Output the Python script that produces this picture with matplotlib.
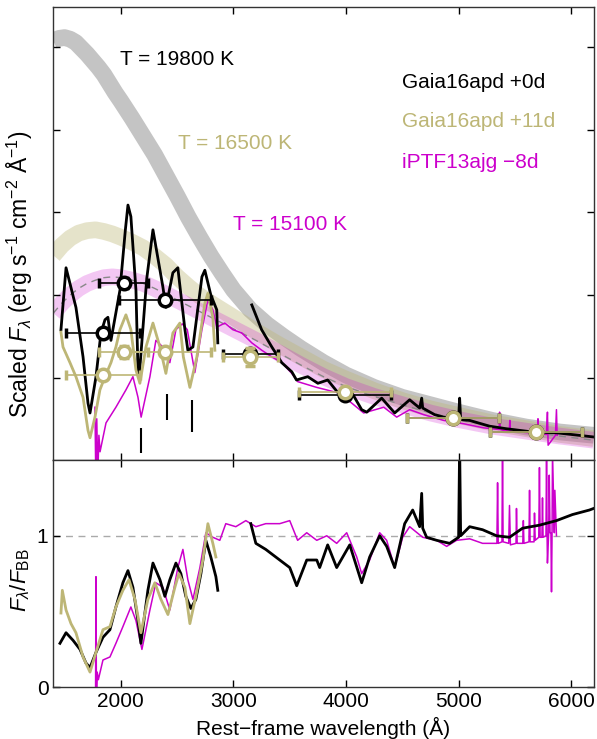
import matplotlib

matplotlib.use("Agg")

import matplotlib.pyplot as plt

plt.rcParams["font.family"] = ["Liberation Sans", "DejaVu Sans"]
plt.rcParams["mathtext.fontset"] = "custom"
plt.rcParams["mathtext.rm"] = "Liberation Sans"
plt.rcParams["mathtext.it"] = "Liberation Sans:italic"
plt.rcParams["font.size"] = 15

BLACK = "#000000"
OLIVE = "#bdb676"
MAGENTA = "#cc00cc"

# blackbody curves, scaled
bb_wave = [1400, 1450, 1500, 1550, 1600, 1650, 1700, 1750, 1800, 1850, 1900,
           1950, 2000, 2100, 2200, 2300, 2400, 2500, 2600, 2700, 2800, 2900,
           3000, 3150, 3300, 3450, 3600, 3800, 4000, 4250, 4500, 4750, 5000,
           5300, 5600, 5900, 6200]
bb_19800 = [5.08, 5.11, 5.12, 5.10, 5.06, 4.99, 4.92, 4.84, 4.76, 4.67, 4.56,
            4.45, 4.35, 4.14, 3.92, 3.70, 3.45, 3.20, 2.94, 2.70, 2.47, 2.26,
            2.06, 1.82, 1.64, 1.49, 1.35, 1.18, 1.03, 0.88, 0.76, 0.67, 0.58,
            0.48, 0.40, 0.34, 0.30]

bb2_wave = [1400, 1475, 1550, 1625, 1700, 1775, 1850, 1925, 2000, 2100, 2200,
            2300, 2400, 2500, 2600, 2700, 2800, 3000, 3200, 3400, 3600, 3800,
            4000, 4250, 4500, 4750, 5000, 5300, 5600, 5900, 6200]
bb_16500 = [2.48, 2.60, 2.69, 2.75, 2.78, 2.79, 2.77, 2.74, 2.70, 2.64, 2.57,
            2.47, 2.36, 2.22, 2.10, 1.99, 1.90, 1.73, 1.56, 1.40, 1.25, 1.10,
            0.98, 0.84, 0.72, 0.62, 0.54, 0.45, 0.38, 0.31, 0.26]

bb3_wave = [1400, 1475, 1550, 1625, 1700, 1775, 1850, 1925, 2000, 2100, 2200,
            2300, 2400, 2500, 2600, 2700, 2800, 3000, 3200, 3400, 3600, 3800,
            4000, 4250, 4500, 4750, 5000, 5300, 5600, 5900, 6200]
bb_15100 = [1.78, 1.90, 2.00, 2.08, 2.14, 2.18, 2.21, 2.22, 2.21, 2.18, 2.14,
            2.08, 2.01, 1.94, 1.87, 1.80, 1.73, 1.59, 1.45, 1.30, 1.15, 1.01,
            0.89, 0.77, 0.67, 0.57, 0.49, 0.41, 0.35, 0.29, 0.24]

# Gaia16apd +0d spectrum (scaled flux)
blk_wave = [1468, 1513, 1601, 1664, 1708, 1726, 1779, 1823, 1859, 1885, 1912,
            1992, 2040, 2063, 2089, 2134, 2152, 2165, 2230, 2285, 2373, 2400,
            2462, 2506, 2569, 2595, 2640, 2720, 2746, 2799, 2852, 2861,
            2862,
            3163, 3250, 3341, 3429, 3518, 3560, 3660, 3750, 3837, 3926, 4050,
            4139, 4184, 4317, 4432, 4565, 4654, 4672, 4681, 4787, 4867, 4947,
            5000, 5009, 5018, 5098, 5275, 5420, 5657, 5869, 6195]
blk_flux = [1.58, 2.33, 1.85, 1.25, 0.69, 0.57, 1.01, 1.54, 1.70, 1.73, 1.45,
            2.06, 2.79, 3.09, 2.95, 2.06, 1.09, 1.05, 2.20, 2.79, 2.10, 1.85,
            2.27, 2.33, 1.58, 1.33, 1.37, 2.22, 2.30, 2.00, 1.82, 1.42,
            None,
            1.88, 1.58, 1.37, 1.18, 1.07, 0.97, 1.01, 0.93, 0.97, 0.82, 0.82,
            0.61, 0.58, 0.75, 0.57, 0.73, 0.63, 0.75, 0.63, 0.55, 0.52, 0.51,
            0.50, 0.75, 0.49, 0.48, 0.41, 0.38, 0.34, 0.33, 0.28]

# Gaia16apd +11d spectrum
olv_wave = [1468, 1486, 1548, 1601, 1664, 1708, 1726, 1770, 1814, 1859, 1912,
            1956, 1992, 2045, 2089, 2134, 2169, 2223, 2285, 2347, 2400, 2462,
            2524, 2555, 2613, 2675, 2746, 2773, 2817, 2835]
olv_flux = [1.55, 1.37, 1.18, 1.01, 0.76, 0.36, 0.27, 0.52, 0.85, 1.01, 1.18,
            1.37, 1.58, 1.76, 1.58, 1.09, 0.93, 1.37, 1.66, 1.37, 1.05, 1.54,
            1.66, 1.25, 0.88, 1.25, 1.90, 2.02, 1.73, 1.33]

# iPTF13ajg -8d spectrum
mag_wave = [1770, 1778, 1786, 1795, 1805, 1815, 1868, 1956, 2045, 2107, 2152,
            2180, 2258, 2311, 2373, 2435, 2489, 2545, 2590, 2657, 2720, 2773,
            2817, 2852, 2923, 2994, 3074, 3163, 3252, 3341, 3429, 3518, 3571,
            3740, 3944, 4157, 4335, 4450, 4565, 4690, 4867, 5044, 5222, 5360,
            5364, 5370, 5399, 5450, 5455, 5460, 5630, 5700, 5705, 5710, 5780,
            5789, 5795, 5860, 5869, 5875]
mag_flux = [0.64, -0.3, 0.50, -0.2, 0.30, 0.10, 0.45, 0.64, 0.85, 1.01, 0.76,
            0.52, 1.01, 1.45, 1.37, 1.18, 1.58, 1.65, 1.58, 1.06, 1.58, 1.94,
            1.82, 1.61, 1.66, 1.58, 1.54, 1.42, 1.33, 1.25, 1.18, 1.05, 0.95,
            0.88, 0.81, 0.57, 0.64, 0.52, 0.61, 0.55, 0.48, 0.44, 0.39, 0.37,
            0.58, 0.37, 0.36, 0.35, 0.48, 0.35, 0.33, 0.32, 0.50, 0.32, 0.31,
            0.58, 0.18, 0.30, 0.61, 0.30]

# line-identification markers
mark_wave = [2180, 2410, 2630]
mark_top = [0.39, 0.80, 0.73]
mark_bot = [0.085, 0.48, 0.34]

# photometry
phot_wave = [1840, 2025, 2390, 3150, 3990, 4950, 5690]
phot_werr = [330, 220, 410, 245, 410, 410, 410]
blk_phot = [1.54, 2.15, 1.94, 1.28, 0.79, 0.51, 0.34]
blk_perr = [0.03, 0.06, 0.03, 0.03, 0.03, 0.03, 0.03]
olv_phot = [1.03, 1.31, 1.31, 1.25, 0.82, 0.51, 0.34]
olv_perr = [0.03, 0.07, 0.04, 0.11, 0.04, 0.03, 0.03]

# ratio to blackbody (lower panel)
rblk_wave = [1459, 1513, 1575, 1637, 1690, 1726, 1779, 1841, 1903, 1956, 2018,
             2063, 2107, 2152, 2178, 2240, 2285, 2347, 2391, 2435, 2489, 2533,
             2577, 2622, 2666, 2711, 2755, 2799, 2844, 2861,
             2862,
             3154, 3199, 3287, 3411, 3500, 3562, 3651, 3740, 3766, 3837, 3917,
             4033, 4139, 4210, 4299, 4361, 4432, 4521, 4592, 4654, 4672, 4681,
             4716, 4805, 4920, 5000, 5009, 5018, 5098, 5213, 5337, 5452, 5568,
             5718, 5869, 6011, 6162, 6198]
rblk = [0.29, 0.36, 0.31, 0.25, 0.16, 0.13, 0.23, 0.33, 0.38, 0.53, 0.69,
        0.77, 0.66, 0.44, 0.29, 0.64, 0.82, 0.71, 0.60, 0.71, 0.82, 0.75,
        0.60, 0.52, 0.58, 0.75, 0.97, 0.86, 0.73, 0.64,
        None,
        1.08, 0.95, 0.91, 0.84, 0.79, 0.67, 0.84, 0.84, 0.79, 0.94, 0.79,
        0.94, 0.69, 0.86, 1.00, 0.93, 0.79, 1.08, 1.17, 1.06, 1.28, 1.05,
        0.99, 0.97, 0.95, 0.99, 1.60, 1.00, 1.06, 1.04, 1.00, 0.99, 1.05,
        1.07, 1.10, 1.14, 1.17, 1.18]

rmag_wave = [1775, 1779, 1783, 1790, 1800, 1841, 1903, 1956, 2018, 2089, 2134,
             2187, 2258, 2311, 2373, 2435, 2506, 2551, 2595, 2640, 2702, 2755,
             2817, 2879, 2932, 3021, 3110, 3199, 3287, 3411, 3500, 3570, 3651,
             3740, 3829, 3917, 4006, 4095, 4139, 4210, 4299, 4361, 4432, 4503,
             4565, 4681, 4805, 4894, 4982, 5098, 5213, 5302, 5340, 5346, 5352,
             5385, 5390, 5395, 5445, 5452, 5460, 5510, 5514, 5520, 5570, 5575,
             5580, 5625, 5630, 5635, 5670, 5674, 5680, 5712, 5718, 5724, 5740,
             5745, 5750, 5776, 5781, 5786, 5789, 5800, 5805, 5812, 5820, 5825,
             5830, 5834, 5850, 5855, 5869]
rmag = [-0.1, 0.73, -0.1, 0.10, 0.05, 0.18, 0.20, 0.29, 0.40, 0.53, 0.44,
        0.25, 0.51, 0.69, 0.66, 0.51, 0.79, 0.91, 0.71, 0.58, 0.79, 1.02,
        0.99, 0.97, 1.08, 1.06, 1.10, 1.06, 1.08, 1.08, 1.10, 0.97, 1.02,
        0.97, 1.00, 0.95, 1.02, 0.86, 0.75, 0.84, 1.02, 0.97, 0.79, 0.99,
        1.06, 0.99, 0.97, 0.93, 0.97, 0.98, 0.95, 0.95, 0.95, 1.35, 0.95,
        0.96, 1.55, 0.96, 0.95, 1.20, 0.94, 0.95, 1.18, 0.95, 0.95, 1.10,
        0.95, 0.96, 1.30, 0.96, 0.96, 1.15, 0.97, 0.99, 1.45, 0.99, 0.99,
        1.25, 0.99, 1.00, 1.55, 1.00, 0.82, 1.02, 1.40, 1.02, 1.02, 0.63,
        1.02, 1.55, 1.02, 1.30, 1.00]

rolv_wave = [1468, 1480, 1513, 1557, 1601, 1664, 1726, 1779, 1841, 1903, 1956,
             2018, 2072, 2125, 2178, 2240, 2302, 2356, 2418, 2480, 2515, 2569,
             2613, 2666, 2728, 2773, 2817, 2844]
rolv = [0.49, 0.64, 0.51, 0.42, 0.36, 0.20, 0.10, 0.23, 0.38, 0.40, 0.53,
        0.64, 0.71, 0.58, 0.36, 0.58, 0.69, 0.58, 0.48, 0.66, 0.75, 0.66,
        0.42, 0.60, 0.84, 1.08, 0.95, 0.86]


def nan(values):
    return [float("nan") if v is None else v for v in values]


fig = plt.figure(figsize=(5.97, 7.39), dpi=100)
ax1 = fig.add_axes([0.0893, 0.3775, 0.9052, 0.613])
ax2 = fig.add_axes([0.0893, 0.070, 0.9052, 0.3075])

# blackbody bands
ax1.plot(bb_wave, bb_19800, color="#c4c4c4", lw=12, solid_capstyle="butt", zorder=1)
ax1.plot(bb2_wave, bb_16500, color=OLIVE, alpha=0.38, lw=12, solid_capstyle="butt", zorder=1)
ax1.plot(bb3_wave, bb_15100, color=MAGENTA, alpha=0.22, lw=12, solid_capstyle="butt", zorder=1)
ax1.plot(bb3_wave, bb_15100, color="#888888", lw=1, ls=(0, (5, 4)), zorder=1.5)

# spectra
ax1.plot(mag_wave, mag_flux, color=MAGENTA, lw=1.1, zorder=2)
ax1.plot(blk_wave, nan(blk_flux), color=BLACK, lw=2.0, zorder=2.2)
ax1.plot(olv_wave, olv_flux, color=OLIVE, lw=2.0, zorder=2.4)
ax1.vlines(mark_wave, mark_bot, mark_top, color=BLACK, lw=1.5, zorder=2.5)

# photometry
ax1.errorbar(phot_wave, blk_phot, xerr=phot_werr, yerr=blk_perr, fmt="o",
             ms=9, mfc="white", mec=BLACK, mew=2.5, ecolor=BLACK,
             elinewidth=1.2, capsize=3.5, capthick=1.5, zorder=3)
ax1.errorbar(phot_wave, olv_phot, xerr=phot_werr, yerr=olv_perr, fmt="o",
             ms=9, mfc="white", mec=OLIVE, mew=2.5, ecolor=OLIVE,
             elinewidth=1.2, capsize=3.5, capthick=1.5, zorder=3.5)

ax1.text(1990, 4.85, "T = 19800 K", color=BLACK, va="center")
ax1.text(2508, 3.84, "T = 16500 K", color=OLIVE, va="center")
ax1.text(2995, 2.85, "T = 15100 K", color=MAGENTA, va="center")
ax1.text(4500, 4.58, "Gaia16apd +0d", color=BLACK, va="center")
ax1.text(4500, 4.10, "Gaia16apd +11d", color=OLIVE, va="center")
ax1.text(4500, 3.60, "iPTF13ajg \u22128d", color=MAGENTA, va="center")

ax1.set_xlim(1400, 6200)
ax1.set_ylim(0, 5.49)
ax1.set_yticks([1, 2, 3, 4, 5])
ax1.set_yticklabels([])
ax1.set_xticks([2000, 3000, 4000, 5000, 6000])
ax1.set_xticklabels([])
ax1.set_ylabel(r"Scaled $F_\lambda$ (erg s$^{-1}$ cm$^{-2}$ Å$^{-1}$)", fontsize=16.5)

# lower panel
ax2.axhline(1, color="#aaaaaa", lw=1, ls=(0, (5, 4)), zorder=1)
ax2.plot(rmag_wave, rmag, color=MAGENTA, lw=1.1, zorder=2)
ax2.plot(rblk_wave, nan(rblk), color=BLACK, lw=2.0, zorder=2.2)
ax2.plot(rolv_wave, rolv, color=OLIVE, lw=2.0, zorder=2.4)
ax2.set_xlim(1400, 6200)
ax2.set_ylim(0, 1.5)
ax2.set_yticks([0, 1])
ax2.set_xticks([2000, 3000, 4000, 5000, 6000])
ax2.set_xlabel("Rest\u2212frame wavelength (Å)")
ax2.set_ylabel(r"$F_\lambda/F_{\rm BB}$", fontsize=16)

for ax in (ax1, ax2):
    ax.tick_params(direction="in", top=True, right=True, length=5, width=1, labelsize=15)
    for spine in ax.spines.values():
        spine.set_linewidth(1)
        spine.set_color("#333333")

ax1.yaxis.set_label_coords(-0.034, 0.41)
ax2.yaxis.set_label_coords(-0.039, 0.47)

fig.savefig("out.png", dpi=100)
